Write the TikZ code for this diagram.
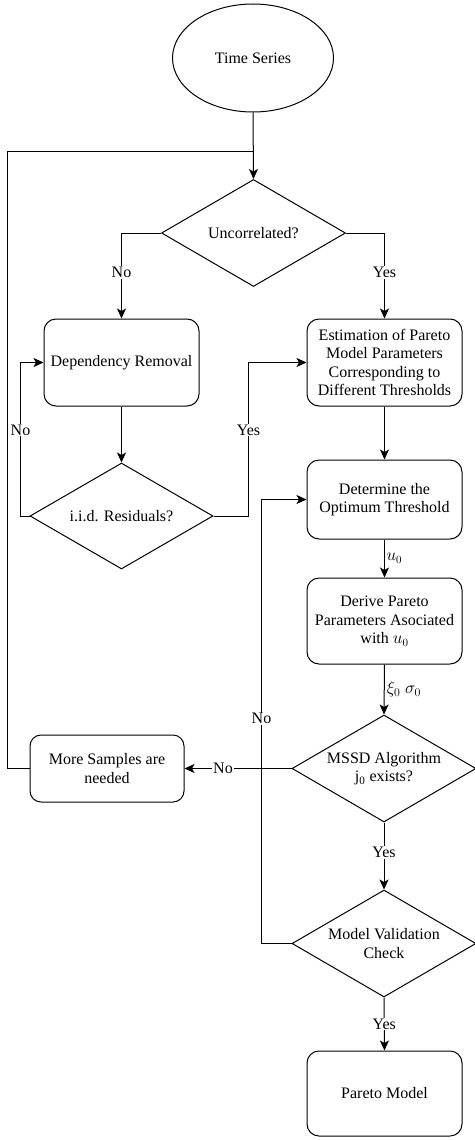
\documentclass[tikz,border=0pt]{standalone}
\usepackage{fontspec}
\setmainfont{Liberation Serif}
\usetikzlibrary{shapes.geometric,arrows.meta}
\begin{document}
\begin{tikzpicture}[x=1pt,y=-1pt,
  every node/.style={font=\fontsize{16}{18.4}\selectfont},
  shapeline/.style={draw, line width=1pt},
  box/.style={shapeline, rounded corners=12pt, minimum width=155pt, align=center, inner sep=0pt},
  dec/.style={shapeline, diamond, aspect=1.71, minimum width=184pt, minimum height=107pt, inner sep=0pt, align=center},
  conn/.style={line width=1pt},
  arr/.style={conn, -{Stealth[length=10pt,width=9pt,inset=2.5pt]}},
  lbl/.style={fill=white, inner sep=1pt}
]
\useasboundingbox (0,0) rectangle (474,1140);

\node[shapeline, ellipse, minimum width=161pt, minimum height=108pt, inner sep=0pt] (ts) at (253,58) {Time Series};
\node[dec] (unc) at (253.5,233) {Uncorrelated?};
\node[box, minimum height=87pt] (dep) at (121.5,362.5) {Dependency Removal};
\node[box, minimum height=87pt] (est) at (384.5,362.5) {Estimation of Pareto\\Model Parameters\\Corresponding to\\Different Thresholds};
\node[dec, minimum width=183pt, minimum height=106pt] (iid) at (121.5,516) {i.i.d. Residuals?};
\node[box, minimum height=79pt] (det) at (384.5,499.5) {Determine the\\Optimum Threshold};
\node[box, minimum height=86pt] (der) at (384.5,621) {Derive Pareto\\Parameters Asociated\\with $u_0$};
\node[dec] (mssd) at (384,768.5) {MSSD Algorithm\\j\textsubscript{0} exists?};
\node[box, rounded corners=11pt, minimum width=154pt, minimum height=67pt] (more) at (107,768.5) {More Samples are\\needed};
\node[dec] (mv) at (384,943.5) {Model Validation\\Check};
\node[box, minimum height=85pt] (par) at (384.5,1093.5) {Pareto Model};

\coordinate (loopTL) at (7,151);

\draw[arr] (ts.south) -- (unc.north);
\draw[conn] (more.west) -| (loopTL) -- (loopTL -| ts.south);
\draw[arr] (unc.west) -| node[pos=0.73,lbl]{No} (dep.north);
\draw[arr] (unc.east) -| node[pos=0.73,lbl]{Yes} (est.north);
\draw[arr] (dep.south) -- (iid.north);
\draw[arr] (iid.west) -- ++(-9,0) |- node[pos=0.28,lbl]{No} (dep.west);
\draw[arr] (iid.east) -- ++(35,0) |- node[pos=0.28,lbl]{Yes} (est.west);
\draw[arr] (est.south) -- (det.north);
\draw[arr] (det.south) -- node[right, lbl, inner sep=1.5pt]{$u_0$} (der.north);
\draw[arr] (der.south) -- node[right, inner sep=2pt, font=\fontsize{18}{20}\selectfont]{$\xi_0\ \sigma_0$} (mssd.north);
\draw[arr] (mssd.west) -- node[pos=0.64,lbl]{No} (more.east);
\draw[arr] (mssd.south) -- node[pos=0.45,lbl]{Yes} (mv.north);
\draw[arr] (mv.west) -- ++(-30,0) |- node[pos=0.253,lbl]{No} (det.west);
\draw[arr] (mv.south) -- node[pos=0.5,lbl]{Yes} (par.north);
\end{tikzpicture}
\end{document}
